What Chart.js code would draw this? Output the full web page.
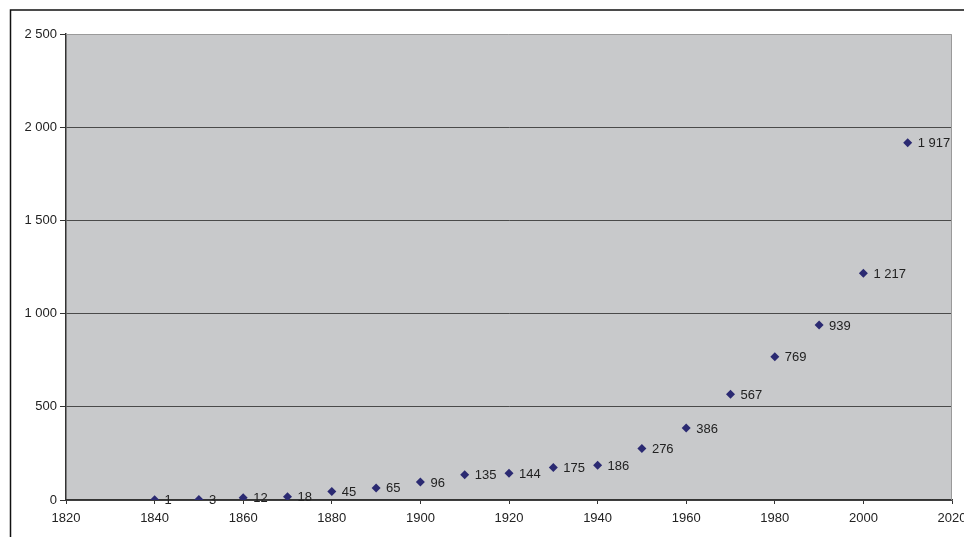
<!DOCTYPE html>
<html>
<head>
<meta charset="utf-8">
<script src="https://cdn.jsdelivr.net/npm/chart.js@4/dist/chart.umd.min.js"></script>
<style>
    html, body { margin: 0; padding: 0; background: #ffffff; }
    #wrap { width: 964px; height: 537px; position: relative; }
</style>
</head>
<body>
<div id="wrap"><canvas id="myChart"></canvas></div>
<script>
'use strict';

// data
const years = [1840, 1850, 1860, 1870, 1880, 1890, 1900, 1910, 1920, 1930, 1940, 1950, 1960, 1970, 1980, 1990, 2000, 2010];
const values = [1, 3, 12, 18, 45, 65, 96, 135, 144, 175, 186, 276, 386, 567, 769, 939, 1217, 1917];
const xTicks = [1820, 1840, 1860, 1880, 1900, 1920, 1940, 1960, 1980, 2000, 2020];
const yTicks = [0, 500, 1000, 1500, 2000, 2500];

(function () {
    // 1917 -> "1 917"
    function fmt(v) {
        return String(v).replace(/\B(?=(\d{3})+(?!\d))/g, ' ');
    }

    var points = [];
    for (var i = 0; i < years.length; i++) {
        points.push({ x: years[i], y: values[i] });
    }

    // grey plot area + outer frame
    const backdrop = {
        id: 'backdrop',
        beforeDraw: chart => {
            const ctx = chart.ctx;
            const a = chart.chartArea;
            ctx.save();
            ctx.fillStyle = '#c8c9cb';
            ctx.fillRect(a.left, a.top, a.right - a.left, a.bottom - a.top);
            ctx.strokeStyle = '#111111';
            ctx.lineWidth = 1.5;
            ctx.beginPath();
            ctx.moveTo(10.5, 600);
            ctx.lineTo(10.5, 10);
            ctx.lineTo(1000, 10);
            ctx.stroke();
            ctx.restore();
        },
        beforeDatasetsDraw: chart => {
            const ctx = chart.ctx;
            const a = chart.chartArea;
            ctx.save();
            ctx.strokeStyle = '#9a9a9a';
            ctx.lineWidth = 1;
            ctx.beginPath();
            ctx.moveTo(a.left, a.top + 0.5);
            ctx.lineTo(a.right - 0.5, a.top + 0.5);
            ctx.lineTo(a.right - 0.5, a.bottom);
            ctx.stroke();
            ctx.restore();
        }
    };

    // data labels right of the markers
    const pointLabels = {
        id: 'pointLabels',
        afterDatasetsDraw: chart => {
            const ctx = chart.ctx;
            const meta = chart.getDatasetMeta(0);
            ctx.save();
            ctx.font = '13px "Liberation Sans", Arial, sans-serif';
            ctx.fillStyle = '#222222';
            ctx.textAlign = 'left';
            ctx.textBaseline = 'middle';
            meta.data.forEach((pt, i) => {
                ctx.fillText(fmt(values[i]), pt.x + 10, pt.y + 1);
            });
            ctx.restore();
        }
    };

    const config = {
        type: 'scatter',
        data: {
            datasets: [
                {
                    data: points,
                    pointStyle: 'rectRot',
                    pointRadius: 4.5,
                    pointHoverRadius: 4.5,
                    backgroundColor: '#2b2a72',
                    borderColor: '#2b2a72',
                    borderWidth: 0
                }
            ]
        },
        options: {
            responsive: true,
            maintainAspectRatio: false,
            animation: false,
            layout: {
                padding: { top: 34, right: 12, left: 0, bottom: 0 }
            },
            plugins: {
                legend: { display: false },
                tooltip: { enabled: false }
            },
            scales: {
                x: {
                    type: 'linear',
                    min: xTicks[0],
                    max: xTicks[xTicks.length - 1],
                    afterBuildTicks: scale => {
                        scale.ticks = xTicks.map(v => ({ value: v }));
                    },
                    afterFit: scale => {
                        scale.height = 37;
                        scale.paddingLeft = 0;
                        scale.paddingRight = 0;
                    },
                    grid: {
                        drawOnChartArea: false,
                        drawTicks: true,
                        tickLength: 4,
                        tickColor: '#333333'
                    },
                    border: { color: '#333333', width: 1.5 },
                    ticks: {
                        maxRotation: 0,
                        autoSkip: false,
                        padding: 7,
                        color: '#222222',
                        font: { family: '"Liberation Sans", Arial, sans-serif', size: 13 },
                        callback: v => String(v)
                    }
                },
                y: {
                    min: yTicks[0],
                    max: yTicks[yTicks.length - 1],
                    afterBuildTicks: scale => {
                        scale.ticks = yTicks.map(v => ({ value: v }));
                    },
                    afterFit: scale => {
                        scale.width = 66;
                        scale.paddingTop = 0;
                        scale.paddingBottom = 0;
                    },
                    grid: {
                        color: ctx => (ctx.tick && ctx.tick.value === 2500) ? 'rgba(0,0,0,0)' : '#4a4a4a',
                        lineWidth: 1,
                        drawTicks: true,
                        tickLength: 6,
                        tickColor: '#333333'
                    },
                    border: { color: '#333333', width: 1.5 },
                    ticks: {
                        padding: 3,
                        color: '#222222',
                        font: { family: '"Liberation Sans", Arial, sans-serif', size: 13 },
                        callback: v => fmt(v)
                    }
                }
            }
        },
        plugins: [backdrop, pointLabels]
    };

    const myChart = new Chart(document.getElementById('myChart'), config);
})();
</script>
</body>
</html>
